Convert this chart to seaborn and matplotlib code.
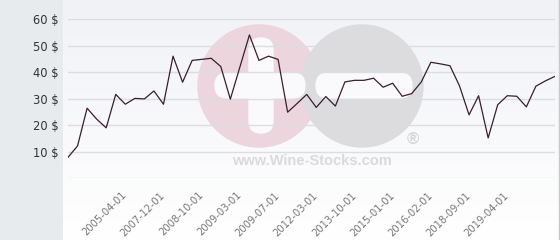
import numpy as np
import pandas as pd
import matplotlib
matplotlib.use("Agg")
import matplotlib.pyplot as plt
import seaborn as sns
from matplotlib.patches import Circle, FancyBboxPatch, Rectangle
from matplotlib.colors import LinearSegmentedColormap

# ---- data ----
prices = [7.9, 12.2, 26.4, 22.3, 19.0, 31.6, 27.9, 30.1, 29.9, 32.9,
          27.9, 46.0, 36.2, 44.4, 44.8, 45.2, 42.1, 29.8, 41.9, 54.0,
          44.4, 46.0, 44.8, 24.9, 28.2, 31.6, 26.7, 30.8, 27.2, 36.3,
          36.9, 36.9, 37.7, 34.3, 35.8, 30.9, 31.9, 36.3, 43.7, 43.1,
          42.4, 34.8, 23.9, 31.1, 15.2, 27.7, 31.1, 30.9, 26.9, 34.7,
          36.7, 38.4]
tick_positions = [6, 10, 14, 18, 22, 26, 30, 34, 38, 42, 46]
tick_labels = ["2005-04-01", "2007-12-01", "2008-10-01", "2009-03-01",
               "2009-07-01", "2012-03-01", "2013-10-01", "2015-01-01",
               "2016-02-01", "2018-09-01", "2019-04-01"]
y_ticks = [0, 10, 20, 30, 40, 50, 60]
y_tick_labels = ["", "10 $", "20 $", "30 $", "40 $", "50 $", "60 $"]

df = pd.DataFrame({"idx": np.arange(len(prices)), "price": prices})

sns.set_theme(style="white")
plt.rcParams['font.family'] = ['DejaVu Sans']

W, H = 560, 240
fig = plt.figure(figsize=(W / 100, H / 100), dpi=100)
fig.patch.set_facecolor("white")

# background + watermark axes (pixel coordinates)
bg = fig.add_axes([0, 0, 1, 1])
bg.set_xlim(0, W)
bg.set_ylim(H, 0)
bg.axis("off")
bg.add_patch(Rectangle((0, 0), 63, H, color="#e7ebee", zorder=0))
grad = np.linspace(0, 1, 256).reshape(-1, 1)
cm = LinearSegmentedColormap.from_list("g", ["#f1f2f6", "#ffffff"])
bg.imshow(grad, cmap=cm, extent=(63, 559, H, 0), aspect="auto", zorder=0)
bg.plot([559, 559], [0, H], color="#c8c8c8", lw=1, zorder=1)
# logo watermark
bg.add_patch(Circle((259, 86), 61, color="#ecd5dc", zorder=1))
bg.add_patch(Circle((362, 86), 61, color="#dcdcde", zorder=1))
bg.add_patch(FancyBboxPatch((215, 73), 90, 25, boxstyle="round,pad=0,rounding_size=12.5",
                            color="#fafafc", zorder=2))
bg.add_patch(FancyBboxPatch((249, 38), 24, 95, boxstyle="round,pad=0,rounding_size=12",
                            color="#fafafc", zorder=2))
bg.add_patch(FancyBboxPatch((316, 73), 96, 25, boxstyle="round,pad=0,rounding_size=12.5",
                            color="#fafafc", zorder=2))
bg.text(413, 139, "®", fontsize=12, color="#d6d6d8", ha="center", va="center",
        fontweight="bold", family="Liberation Sans", zorder=2)
bg.text(312, 161, "www.Wine-Stocks.com", fontsize=10.5, color="#dadadc", ha="center",
        va="center", fontweight="bold", family="Liberation Sans", zorder=2)

# main axes
ax = fig.add_axes([68 / W, (H - 178.3) / H, 487 / W, (178.3 - 19) / H])
ax.set_facecolor("none")
sns.lineplot(data=df, x="idx", y="price", ax=ax, color="#3a1e2c", lw=0.9)
ax.set_xlim(0, len(prices) - 1)
ax.set_ylim(0, 60)
ax.set_yticks(y_ticks)
ax.set_yticklabels(y_tick_labels, fontsize=8.3, color="#333333")
ax.set_xticks(tick_positions)
ax.set_xticklabels(tick_labels, fontsize=7.2, color="#777777", rotation=45,
                   ha="right", va="center", rotation_mode="anchor")
ax.tick_params(axis="x", length=0, pad=11)
ax.tick_params(axis="y", length=0, pad=6.5)
ax.grid(axis="y", color="#dcdde2", lw=1)
ax.grid(axis="x", visible=False)
for s in ax.spines.values():
    s.set_visible(False)
ax.set_xlabel("")
ax.set_ylabel("")

fig.savefig("out.png", dpi=100)
